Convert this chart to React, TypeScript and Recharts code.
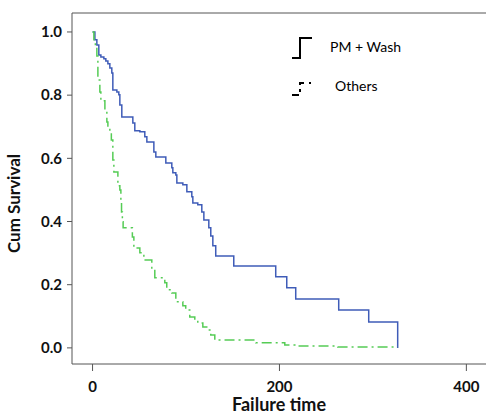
import {
  LineChart,
  Line,
  XAxis,
  YAxis,
  Legend,
  ReferenceLine,
} from 'recharts'

// Kaplan-Meier steps
const pmWashTimes = [
  0, 2.5, 4.6, 6.7, 8.9, 12.1, 14.2, 16.4, 18.5, 20.6, 21.7, 26.0, 28.1, 29.2, 31.3,
  43.1, 45.2, 50.6, 55.9, 58.1, 65.6, 67.7, 78.4, 84.8, 85.9, 89.1, 90.2, 96.6, 100.9,
  106.2, 107.3, 112.6, 116.9, 119.1, 124.4, 126.5, 128.7, 131.8, 151.1, 196.0, 207.8,
  217.4, 263.4, 295.5, 326.5,
]
const pmWashSurvival = [
  1.0, 0.975, 0.959, 0.927, 0.921, 0.915, 0.908, 0.899, 0.886, 0.87, 0.816, 0.81, 0.801,
  0.769, 0.731, 0.712, 0.687, 0.684, 0.668, 0.652, 0.62, 0.604, 0.585, 0.57, 0.554, 0.547,
  0.522, 0.516, 0.494, 0.478, 0.459, 0.453, 0.43, 0.405, 0.38, 0.354, 0.323, 0.291, 0.259,
  0.225, 0.19, 0.155, 0.12, 0.082, 0.0,
]

const othersTimes = [
  0, 1.4, 3.0, 4.6, 5.7, 7.8, 8.9, 13.2, 15.3, 16.4, 18.5, 20.1, 21.7, 22.8, 27.1, 29.2,
  30.3, 31.0, 31.9, 32.7, 42.6, 44.2, 50.6, 54.9, 63.4, 66.6, 77.3, 79.4, 84.8, 89.1, 96.6,
  99.7, 104.0, 109.4, 112.6, 118.0, 123.3, 126.5, 130.8, 174.7, 205.7, 216.4, 262.4, 326.5,
]
const othersSurvival = [
  1.0, 0.975, 0.953, 0.924, 0.848, 0.81, 0.782, 0.753, 0.715, 0.696, 0.68, 0.658, 0.595,
  0.557, 0.513, 0.5, 0.468, 0.43, 0.399, 0.38, 0.351, 0.316, 0.301, 0.278, 0.253, 0.222,
  0.206, 0.184, 0.174, 0.146, 0.133, 0.12, 0.098, 0.089, 0.079, 0.066, 0.057, 0.041, 0.025,
  0.016, 0.009, 0.006, 0.003, 0.003,
]

const xTicks = [0, 200, 400]
const yTicks = [0, 0.2, 0.4, 0.6, 0.8, 1.0]
const seriesNames = ['PM + Wash', 'Others']

const pmWashData = pmWashTimes.map((t, i) => ({ t, s: pmWashSurvival[i] }))
const othersData = othersTimes.map((t, i) => ({ t, s: othersSurvival[i] }))

const font = 'Lato, "Open Sans", sans-serif'
const axisColor = '#555'

function LegendBox() {
  return (
    <svg width={130} height={75} style={{ display: 'block', overflow: 'visible' }}>
      <polyline
        points="2,20 10,20 10,0 22,0"
        fill="none"
        stroke="#000"
        strokeWidth={2}
      />
      <text x={40} y={14} fontFamily={font} fontSize={14} fill="#000">
        {seriesNames[0]}
      </text>
      <polyline points="2,57 9,57" fill="none" stroke="#000" strokeWidth={2} />
      <path
        d="M10,54 L10,51 M10,47 L10,45 L14,45 M20,44 L20,46"
        fill="none"
        stroke="#000"
        strokeWidth={2}
      />
      <text x={45} y={53} fontFamily={font} fontSize={14} fill="#000">
        {seriesNames[1]}
      </text>
    </svg>
  )
}

export default function App() {
  return (
    <div style={{ position: 'absolute', left: 0, top: 0, background: '#fff' }}>
      <LineChart
        width={486}
        height={414}
        margin={{ top: 13, right: 0, left: 0, bottom: 0 }}
      >
        <XAxis
          dataKey="t"
          type="number"
          domain={[-22, 421]}
          ticks={xTicks}
          allowDataOverflow
          stroke={axisColor}
          tickSize={7}
          tickMargin={10}
          height={50}
          tick={{ fontFamily: font, fontSize: 15, fontWeight: 700, fill: '#111' }}
          label={{
            value: 'Failure time',
            position: 'insideBottom',
            offset: 3,
            style: { fontFamily: font, fontSize: 18, fontWeight: 700, fill: '#111' },
          }}
        />
        <YAxis
          dataKey="s"
          type="number"
          domain={[-0.051, 1.06]}
          ticks={yTicks}
          allowDataOverflow
          width={72}
          stroke={axisColor}
          tickSize={5}
          tickMargin={5}
          tickFormatter={(v: number) => v.toFixed(1)}
          tick={{ fontFamily: font, fontSize: 15, fontWeight: 700, fill: '#111' }}
          label={{
            value: 'Cum Survival',
            angle: -90,
            position: 'insideLeft',
            offset: 14,
            dy: 15,
            style: {
              fontFamily: font,
              fontSize: 17,
              fontWeight: 700,
              fill: '#111',
              textAnchor: 'middle',
            },
          }}
        />
        <ReferenceLine y={1.06} stroke={axisColor} ifOverflow="extendDomain" />
        <Line
          data={pmWashData}
          dataKey="s"
          name={seriesNames[0]}
          type="stepAfter"
          stroke="#3f5cb8"
          strokeWidth={1.5}
          dot={false}
          isAnimationActive={false}
        />
        <Line
          data={othersData}
          dataKey="s"
          name={seriesNames[1]}
          type="stepAfter"
          stroke="#55cc55"
          strokeWidth={1.5}
          strokeDasharray="10 4 2 4"
          dot={false}
          isAnimationActive={false}
        />
        <Legend
          layout="horizontal"
          verticalAlign="middle"
          align="center"
          content={() => <LegendBox />}
          wrapperStyle={{ left: 290, top: 38, width: 130, height: 75 }}
        />
      </LineChart>
    </div>
  )
}
